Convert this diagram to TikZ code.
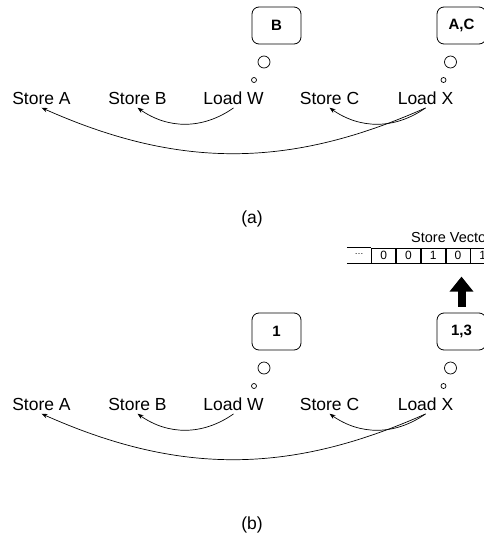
\documentclass[tikz,border=0pt]{standalone}
\usepackage{fontspec}
\setmainfont{Liberation Sans}
\usetikzlibrary{positioning, arrows.meta}
\tikzstyle{lbl} = [font=\fontsize{17.5}{20}\selectfont]
\tikzstyle{callout} = [rectangle, rounded corners=7pt, minimum width=49pt, minimum height=37pt, text centered, draw=black, line width=0.8pt, font=\fontsize{15}{18}\selectfont\bfseries]
\tikzstyle{bubbig} = [circle, draw=black, line width=0.7pt, minimum size=12pt, inner sep=0pt]
\tikzstyle{bubsmall} = [circle, draw=black, line width=0.7pt, minimum size=5pt, inner sep=0pt]
\tikzstyle{arrow} = [line width=0.7pt, -{Stealth[length=6pt,width=4.5pt]}]
\tikzstyle{cell} = [rectangle, draw=black, line width=0.8pt, minimum width=24pt, minimum height=15pt, inner sep=0pt, font=\fontsize{12}{14}\selectfont]
\tikzstyle{fatarrow} = [line width=8pt, -{Triangle[length=15pt,width=23pt]}]

\begin{document}
\begin{tikzpicture}[x=1pt, y=-1pt, node distance=96pt]
    \useasboundingbox (0,0) rectangle (484,536);

    % (a)
    \node (stA) [lbl] at (41.5,98) {Store A};
    \node (stB) [lbl, right of = stA] {Store B};
    \node (ldW) [lbl, right of = stB] {Load W};
    \node (stC) [lbl, right of = ldW] {Store C};
    \node (ldX) [lbl, right of = stC] {Load X};
    \node (sbW) [bubsmall] at (254,80) {};
    \node (bbW) [bubbig] at (264,62) {};
    \node (cW) [callout] at (276.5,25.5) {B};
    \node (sbX) [bubsmall] at (443.5,80) {};
    \node (bbX) [bubbig] at (450.5,62) {};
    \node (cX) [callout] at (461.5,25.5) {A,C};

    \draw[arrow] (ldW.south) to[out=215,in=-35] (stB.south);
    \draw[arrow] (ldX.south) to[out=215,in=-35] (stC.south);
    \draw[arrow] (ldX.south) to[out=204,in=-24] (stA.south);

    \node (capA) [lbl] at (252,219) {(a)};

    % (b)
    \node (stA2) [lbl] at (41.5,404) {Store A};
    \node (stB2) [lbl, right of = stA2] {Store B};
    \node (ldW2) [lbl, right of = stB2] {Load W};
    \node (stC2) [lbl, right of = ldW2] {Store C};
    \node (ldX2) [lbl, right of = stC2] {Load X};
    \node (sbW2) [bubsmall] at (254,386) {};
    \node (bbW2) [bubbig] at (264,368) {};
    \node (cW2) [callout] at (276.5,331.5) {1};
    \node (sbX2) [bubsmall] at (443.5,386) {};
    \node (bbX2) [bubbig] at (450.5,368) {};
    \node (cX2) [callout] at (461.5,331.5) {1,3};

    \draw[arrow] (ldW2.south) to[out=215,in=-35] (stB2.south);
    \draw[arrow] (ldX2.south) to[out=215,in=-35] (stC2.south);
    \draw[arrow] (ldX2.south) to[out=204,in=-24] (stA2.south);

    % store vector
    \node (vdots) [minimum width=24pt, minimum height=15pt, inner sep=0pt, font=\fontsize{9}{10}\selectfont] at (359,255.5) {\raisebox{2pt}{\dots}};
    \draw[line width=0.8pt] (vdots.north west) -- (vdots.north east) (vdots.south west) -- (vdots.south east);
    \node (v1) [cell, right=0pt of vdots] {0};
    \node (v2) [cell, right=0pt of v1] {0};
    \node (v3) [cell, right=0pt of v2] {1};
    \node (v4) [cell, right=0pt of v3] {0};
    \node (v5) [cell, right=0pt of v4] {1};
    \node (vlab) [anchor=base west, inner sep=0pt, font=\fontsize{14.5}{16}\selectfont] at (411,242) {Store Vector};

    \draw[fatarrow] ([yshift=6pt]cX2.north) -- ([yshift=36pt]cX2.north);

    \node (capB) [lbl] at (252,525) {(b)};
\end{tikzpicture}
\end{document}
